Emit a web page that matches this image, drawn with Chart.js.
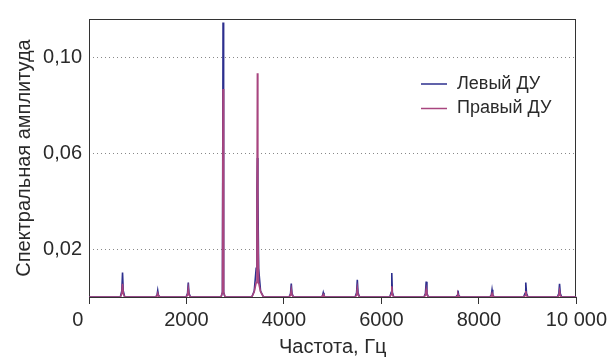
<!DOCTYPE html>
<html>
<head>
<meta charset="utf-8">
<script src="https://cdn.jsdelivr.net/npm/chart.js@4/dist/chart.umd.min.js"></script>
<style>
  html, body { margin: 0; padding: 0; background: #fff; }
  #wrap { width: 611px; height: 359px; position: relative; }
</style>
</head>
<body>
<div id="wrap"><canvas id="spec"></canvas></div>
<script>
// ── Data ────────────────────────────────────────────────
const freqHz = [
  0,
  643, 673, 688, 703, 733,
  1365, 1395, 1410, 1425, 1455,
  1992, 2022, 2037, 2052, 2082,
  2710, 2738, 2750, 2762, 2790,
  3340, 3390, 3430, 3446, 3455, 3464, 3480, 3520, 3580,
  4105, 4135, 4150, 4165, 4195,
  4761, 4791, 4806, 4821, 4851,
  5460, 5490, 5505, 5520, 5550,
  6172, 6200, 6212, 6224, 6252,
  6873, 6903, 6918, 6933, 6963,
  7525, 7555, 7570, 7585, 7615,
  8224, 8254, 8269, 8284, 8314,
  8916, 8946, 8961, 8976, 9006,
  9609, 9639, 9654, 9669, 9699,
  10000
];
const leftAmp = [
  0,
  0, 0.0025, 0.0102, 0.0025, 0,
  0, 0.0007, 0.0027, 0.0007, 0,
  0, 0.0015, 0.0060, 0.0015, 0,
  0, 0.0020, 0.1145, 0.0020, 0,
  0, 0.0025, 0.0120, 0.0450, 0.0580, 0.0450, 0.0120, 0.0025, 0,
  0, 0.0014, 0.0056, 0.0014, 0,
  0, 0.0005, 0.0018, 0.0005, 0,
  0, 0.0018, 0.0072, 0.0018, 0,
  0, 0.0020, 0.0100, 0.0020, 0,
  0, 0.0016, 0.0064, 0.0016, 0,
  0, 0.0007, 0.0027, 0.0007, 0,
  0, 0.0008, 0.0030, 0.0008, 0,
  0, 0.0015, 0.0060, 0.0015, 0,
  0, 0.0014, 0.0055, 0.0014, 0,
  0
];
const rightAmp = [
  0,
  0, 0.0014, 0.0055, 0.0014, 0,
  0, 0.0004, 0.0015, 0.0004, 0,
  0, 0.0009, 0.0035, 0.0009, 0,
  0, 0.0020, 0.0868, 0.0020, 0,
  0, 0.0022, 0.0060, 0.0300, 0.0934, 0.0300, 0.0060, 0.0022, 0,
  0, 0.0008, 0.0030, 0.0008, 0,
  0, 0.0003, 0.0010, 0.0003, 0,
  0, 0.0009, 0.0035, 0.0009, 0,
  0, 0.0011, 0.0045, 0.0011, 0,
  0, 0.0008, 0.0030, 0.0008, 0,
  0, 0.0003, 0.0012, 0.0003, 0,
  0, 0.0004, 0.0015, 0.0004, 0,
  0, 0.0006, 0.0025, 0.0006, 0,
  0, 0.0006, 0.0025, 0.0006, 0,
  0
];
const seriesNames = ['Левый ДУ', 'Правый ДУ'];
const seriesColors = ['#2d2f8e', '#a8457f'];
const yTickValues = [0.02, 0.06, 0.10];
const xTickValues = [0, 2000, 4000, 6000, 8000, 10000];

// ── Helpers ─────────────────────────────────────────────
const FONT = '"Liberation Sans", Arial, sans-serif';
const TXT = '#2a2a2a';
const toPoints = (xs, ys) => xs.map((x, i) => ({ x, y: ys[i] }));
const fmtY = v => v.toFixed(2).replace('.', ',');
// origin label sits a little left of the axis in the original
const fmtX = v => v === 0 ? '0    ' : v >= 10000 ? String(v).replace(/(\d)(?=(\d{3})+$)/g, '$1 ') : String(v);

// frame around plot area + legend inside it
const framePlugin = {
  id: 'frame',
  beforeDatasetsDraw(chart) {
    const { ctx, chartArea: a } = chart;
    ctx.save();
    ctx.strokeStyle = '#333';
    ctx.lineWidth = 1;
    ctx.strokeRect(Math.round(a.left) + 0.5, Math.round(a.top) + 0.5,
                   Math.round(a.right - a.left) - 1, Math.round(a.bottom - a.top));
    ctx.restore();
  },
  afterDraw(chart) {
    const { ctx } = chart;
    ctx.save();
    ctx.font = `18px ${FONT}`;
    ctx.textBaseline = 'middle';
    seriesNames.forEach((name, i) => {
      const y = 84 + i * 24.5;
      ctx.strokeStyle = seriesColors[i];
      ctx.lineWidth = 1.5;
      ctx.beginPath(); ctx.moveTo(421, y); ctx.lineTo(447, y); ctx.stroke();
      ctx.fillStyle = TXT;
      ctx.fillText(name, 457, y);
    });
    ctx.restore();
  }
};

new Chart(document.getElementById('spec'), {
  type: 'line',
  data: {
    datasets: [
      { label: seriesNames[0], data: toPoints(freqHz, leftAmp), borderColor: seriesColors[0],
        borderWidth: 1.6, pointRadius: 0, tension: 0, order: 2 },
      { label: seriesNames[1], data: toPoints(freqHz, rightAmp), borderColor: seriesColors[1],
        borderWidth: 1.6, pointRadius: 0, tension: 0, order: 1 },
    ]
  },
  options: {
    responsive: true, maintainAspectRatio: false, animation: false,
    layout: { padding: { left: 0, right: 31, top: 15, bottom: 0 } },
    plugins: { legend: { display: false }, tooltip: { enabled: false } },
    scales: {
      x: {
        type: 'linear', min: 0, max: 10000,
        afterBuildTicks: s => { s.ticks = xTickValues.map(v => ({ value: v })); },
        afterFit: s => { s.height = 62; },
        grid: { drawOnChartArea: false, drawTicks: true, tickLength: 7, color: '#333' },
        border: { display: false },
        ticks: { color: TXT, font: { family: FONT, size: 20 }, padding: 4, maxRotation: 0,
                 callback: v => fmtX(v) },
        title: { display: true, text: 'Частота, Гц', color: TXT, font: { family: FONT, size: 20 }, padding: { top: 0, bottom: 0 } }
      },
      y: {
        min: 0, max: 0.116,
        afterBuildTicks: s => { s.ticks = yTickValues.map(v => ({ value: v })); },
        afterFit: s => { s.width = 89; },
        grid: { drawTicks: false, color: '#888', lineWidth: 1 },
        border: { display: false, dash: [1, 3] },
        ticks: { color: TXT, font: { family: FONT, size: 20 }, padding: 7, callback: v => fmtY(v) },
        title: { display: true, text: 'Спектральная амплитуда', color: TXT, font: { family: FONT, size: 20 }, padding: { top: 12, bottom: 0 } }
      }
    }
  },
  plugins: [framePlugin]
});
</script>
</body>
</html>
